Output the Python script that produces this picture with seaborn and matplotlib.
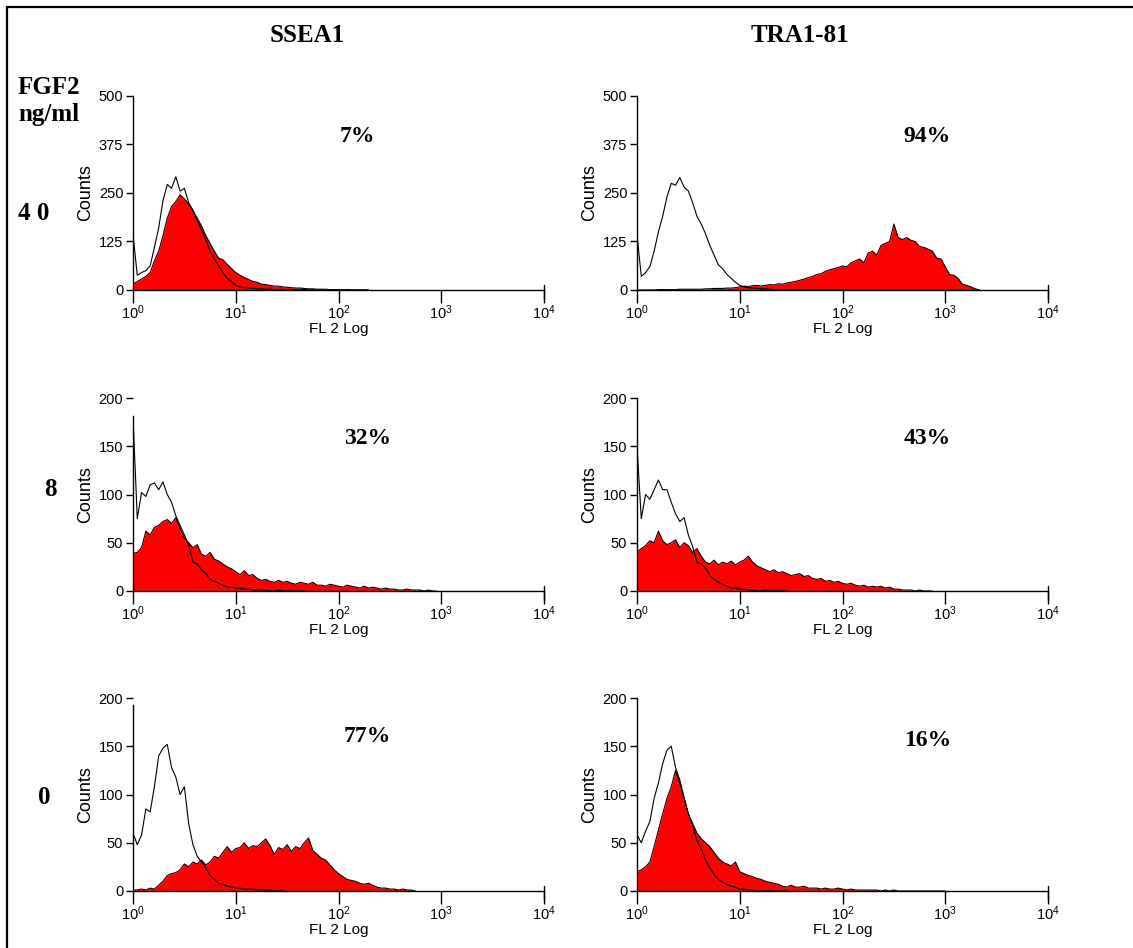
import numpy as np
import pandas as pd
import matplotlib
matplotlib.use("Agg")
import matplotlib.pyplot as plt
from matplotlib import font_manager
from matplotlib.patches import Rectangle
from matplotlib.ticker import FixedLocator, NullLocator
import seaborn as sns

# ---------------------------------------------------------------------------
# Flow cytometry histograms: counts per FL2 channel (24 channels per decade,
# first channel at 10^0).  "ctrl" = isotype control (outline), "stain" = marker.
# ---------------------------------------------------------------------------
CHANNELS_PER_DECADE = 24

markers = ["SSEA1", "TRA1-81"]
fgf2_levels = ["4 0", "8", "0"]
positive_pct = [[7, 94], [32, 43], [77, 16]]
count_max = [500, 200, 200]
count_ticks = [[0, 125, 250, 375, 500], [0, 50, 100, 150, 200], [0, 50, 100, 150, 200]]
fl2_ticks = [1, 10, 100, 1000, 10000]
fl2_tick_labels = [r"$\mathregular{10^{0}}$", r"$\mathregular{10^{1}}$", r"$\mathregular{10^{2}}$",
                   r"$\mathregular{10^{3}}$", r"$\mathregular{10^{4}}$"]

# FGF2 40 ng/ml
ctrl_ssea1_40 = [143, 38, 45, 50, 62, 110, 160, 230, 272, 262, 292, 255, 262, 225, 205, 180,
                 155, 130, 100, 80, 62, 45, 30, 22, 12, 8, 6, 5, 4, 3, 3, 2, 2, 1, 1, 1,
                 0, 1, 0, 0, 1, 0, 0, 0, 0, 0, 0, 0, 0, 0, 0, 0, 0, 0, 0, 0]
stain_ssea1_40 = [15, 22, 28, 35, 45, 75, 100, 140, 185, 215, 228, 245, 235, 222, 205, 185,
                  165, 140, 120, 100, 82, 78, 66, 55, 45, 38, 32, 27, 22, 20, 15, 14, 12, 10,
                  10, 8, 7, 6, 5, 5, 4, 3, 3, 2, 2, 2, 1, 1, 1, 0, 1, 0, 0, 0, 0, 0]
ctrl_tra_40 = [143, 35, 45, 60, 100, 150, 190, 240, 275, 270, 290, 265, 255, 225, 190, 170,
               145, 115, 90, 65, 55, 40, 30, 20, 12, 8, 6, 5, 4, 3, 3, 2, 1, 1, 1, 0,
               0, 0, 0, 0, 0, 0, 0, 0, 0, 0, 0, 0, 0, 0]
stain_tra_40 = [0, 0, 0, 0, 0, 1, 1, 1, 1, 1, 2, 2, 2, 2, 2, 2, 3, 3, 4, 4,
                4, 5, 5, 6, 8, 10, 9, 11, 12, 10, 12, 14, 13, 16, 15, 18, 20, 22, 25, 28,
                32, 35, 40, 42, 48, 52, 55, 58, 62, 60, 70, 75, 80, 70, 95, 100, 90, 115, 120, 125,
                170, 135, 130, 135, 128, 125, 112, 110, 105, 100, 82, 80, 60, 40, 38, 30, 15, 12, 8, 3, 0]

# FGF2 8 ng/ml
ctrl_ssea1_8 = [180, 75, 102, 98, 110, 112, 105, 113, 100, 92, 78, 68, 58, 48, 30, 28,
                22, 18, 12, 10, 8, 6, 4, 4, 3, 3, 2, 2, 1, 1, 1, 1, 0, 0, 1, 0, 0, 0, 0, 0, 0]
stain_ssea1_8 = [39, 40, 45, 62, 58, 66, 68, 72, 74, 70, 76, 65, 55, 50, 45, 48, 38, 36, 40, 33,
                 31, 28, 25, 23, 20, 17, 21, 16, 17, 13, 11, 12, 10, 9, 11, 9, 10, 8, 7, 9,
                 8, 7, 9, 6, 6, 5, 7, 6, 5, 4, 6, 5, 4, 3, 5, 3, 4, 3, 2, 3,
                 2, 2, 1, 1, 2, 1, 1, 1, 0, 1, 0, 0]
ctrl_tra_8 = [150, 75, 100, 95, 105, 115, 105, 105, 92, 80, 72, 76, 58, 46, 30, 28,
              24, 16, 12, 9, 7, 5, 3, 3, 2, 2, 1, 1, 0, 0, 1, 0, 0, 0, 0, 0]
stain_tra_8 = [40, 44, 47, 52, 50, 62, 52, 48, 50, 53, 45, 50, 47, 40, 44, 36, 30, 28, 32, 27,
               30, 28, 31, 27, 30, 32, 36, 30, 26, 24, 22, 20, 22, 19, 20, 18, 16, 17, 18, 15,
               16, 13, 12, 13, 10, 11, 9, 10, 8, 7, 8, 6, 5, 6, 4, 5, 4, 5, 3, 4,
               2, 2, 1, 1, 1, 0, 1, 0, 0, 0]

# FGF2 0 ng/ml
ctrl_ssea1_0 = [60, 48, 58, 85, 82, 108, 140, 148, 152, 128, 118, 100, 108, 70, 48, 36,
                30, 24, 16, 12, 8, 7, 5, 4, 3, 3, 2, 2, 2, 1, 1, 1, 1, 0, 0, 0]
stain_ssea1_0 = [1, 1, 2, 1, 3, 2, 6, 10, 16, 18, 19, 22, 28, 25, 30, 28, 32, 27, 30, 36,
                 34, 40, 46, 40, 44, 45, 50, 44, 47, 46, 50, 54, 47, 38, 45, 43, 48, 41, 46, 44,
                 50, 55, 42, 38, 34, 32, 27, 22, 18, 15, 12, 11, 10, 8, 7, 8, 6, 4, 3, 3,
                 2, 2, 1, 2, 1, 1, 0]
ctrl_tra_0 = [58, 50, 62, 72, 96, 112, 132, 146, 150, 128, 115, 97, 80, 68, 52, 44,
              32, 24, 17, 12, 9, 7, 5, 4, 2, 2, 1, 1, 0, 0, 0, 0, 0, 0, 0, 0]
stain_tra_0 = [20, 22, 25, 30, 46, 63, 80, 96, 108, 125, 112, 96, 80, 70, 60, 54, 50, 46, 40, 34,
               30, 28, 26, 30, 20, 18, 16, 15, 13, 12, 10, 9, 8, 7, 5, 4, 6, 4, 4, 5,
               3, 3, 3, 2, 3, 2, 2, 3, 2, 1, 2, 1, 1, 1, 1, 1, 1, 0, 1, 0,
               1, 0, 0, 0, 0, 0, 0, 0, 0, 0, 0, 0, 0]

control_grid = [[ctrl_ssea1_40, ctrl_tra_40], [ctrl_ssea1_8, ctrl_tra_8], [ctrl_ssea1_0, ctrl_tra_0]]
stained_grid = [[stain_ssea1_40, stain_tra_40], [stain_ssea1_8, stain_tra_8], [stain_ssea1_0, stain_tra_0]]

# ---------------------------------------------------------------------------
sns.set_theme(style="ticks")
available = {f.name for f in font_manager.fontManager.ttflist}
SANS = "Liberation Sans Narrow" if "Liberation Sans Narrow" in available else "Liberation Sans"
SERIF = "Liberation Serif"
plt.rcParams["font.family"] = [SANS, "DejaVu Sans"]
plt.rcParams["mathtext.fontset"] = "custom"
plt.rcParams["mathtext.rm"] = SANS
for key in ("text.color", "axes.labelcolor", "xtick.color", "ytick.color"):
    plt.rcParams[key] = "black"

W, H = 1133, 948
fig = plt.figure(figsize=(W / 100, H / 100), dpi=100)
fig.patch.set_facecolor("white")


def fx(px):
    return px / W


def fy(py):
    return 1 - py / H


col_left = [133, 637]
col_width = 411
row_span = [(96, 290), (398, 591), (698, 891)]
spine_top = [[500, 500], [181, 200], [193, 200]]
pct_pos = [[(0.547, 0.79), (0.705, 0.79)],
           [(0.572, 0.79), (0.705, 0.79)],
           [(0.569, 0.80), (0.708, 0.78)]]


def channel_positions(n):
    return 10 ** (np.arange(n) / CHANNELS_PER_DECADE)


def histogram_frame(counts):
    # close the polygon down to the baseline at the first channel
    x = channel_positions(len(counts))
    return pd.DataFrame({"FL2": np.r_[x[0], x], "Counts": np.r_[0, counts]})


for r in range(3):
    top, bottom = row_span[r]
    for c in range(2):
        ax = fig.add_axes([fx(col_left[c]), fy(bottom), col_width / W, (bottom - top) / H])
        ax.set_facecolor("none")
        stained = histogram_frame(stained_grid[r][c])
        control = histogram_frame(control_grid[r][c])

        ax.fill_between(stained["FL2"], stained["Counts"], color="#ff0000", linewidth=0, zorder=1)
        sns.lineplot(data=stained, x="FL2", y="Counts", ax=ax, color="black", linewidth=0.8,
                     estimator=None, sort=False, zorder=2)
        sns.lineplot(data=control, x="FL2", y="Counts", ax=ax, color="black", linewidth=0.8,
                     estimator=None, sort=False, zorder=3)

        ax.set_xscale("log")
        ax.set_xlim(1, 1e4)
        ax.set_ylim(0, count_max[r])
        ax.xaxis.set_major_locator(FixedLocator(fl2_ticks))
        ax.xaxis.set_minor_locator(NullLocator())
        ax.set_xticklabels(fl2_tick_labels)
        ax.set_yticks(count_ticks[r])
        ax.set_yticklabels([str(v) for v in count_ticks[r]])

        sns.despine(ax=ax)
        for side in ("left", "bottom"):
            ax.spines[side].set_color("black")
            ax.spines[side].set_linewidth(1.0)
        ax.spines["left"].set_bounds(0, spine_top[r][c])
        ax.tick_params(axis="y", direction="out", length=5, width=1, pad=2,
                       labelsize=10.5, colors="black")
        ax.tick_params(axis="x", direction="out", length=9, width=1, pad=1,
                       labelsize=10.5, colors="black")
        ax.axvline(1e4, ymin=-0.047, ymax=0.027, color="black", linewidth=1, clip_on=False)

        ax.set_xlabel("FL 2 Log", fontsize=11, labelpad=0, color="black")
        ax.set_ylabel("Counts", fontsize=13, labelpad=3, color="black")

        px, py = pct_pos[r][c]
        ax.text(px, py, f"{positive_pct[r][c]}%", transform=ax.transAxes,
                ha="center", va="center", fontsize=17, fontweight="bold",
                family=SERIF, color="black")

# column headers
for c, name in enumerate(markers):
    fig.text(fx([307, 800][c]), fy(35), name, ha="center", va="center",
             fontsize=18, fontweight="bold", family=SERIF, color="black")

# row headers
fig.text(fx(18), fy(87), "FGF2", ha="left", va="center", fontsize=18,
         fontweight="bold", family=SERIF, color="black")
fig.text(fx(18), fy(115), "ng/ml", ha="left", va="center", fontsize=18,
         fontweight="bold", family=SERIF, color="black")
row_label_x = [34, 50, 44]
row_label_y = [213, 490, 797]
for r, lvl in enumerate(fgf2_levels):
    fig.text(fx(row_label_x[r]), fy(row_label_y[r]), lvl, ha="center", va="center",
             fontsize=18, fontweight="bold", family=SERIF, color="black")

# outer frame
fig.add_artist(Rectangle((fx(7), fy(960)), fx(1140 - 7), (960 - 7) / H,
                         transform=fig.transFigure, fill=False, edgecolor="black",
                         linewidth=1.6))

fig.savefig("out.png", dpi=100)
